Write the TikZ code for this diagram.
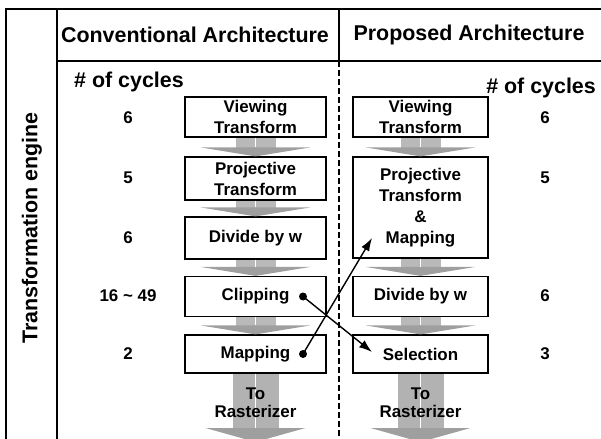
\documentclass[tikz,border=0pt]{standalone}
\usepackage{fontspec}
\setmainfont{Liberation Sans}
\usetikzlibrary{calc,arrows.meta}

\newcommand{\headfont}{\fontsize{21.5}{24}\selectfont\bfseries}
\newcommand{\boxfont}{\fontsize{17}{21}\selectfont\bfseries}

% gray flow arrow between two stacked boxes
\newcommand{\stagearrow}[2]{%
  \fill[gray!55] ($(#1.south)+(-20,0)$) rectangle ($(#2.north)+(20,-8)$);
  \fill[gray!75] ($(#2.north)+(-55,-9)$) -- ($(#2.north)+(55,-9)$) -- (#2.north) -- cycle;
  \draw[white, line width=0.8bp] (#1.south) -- ($(#2.north)+(0,-9)$);
}

\tikzset{
  frame/.style={line width=1.2bp},
  headtext/.style={font=\headfont, inner sep=0pt},
  cycles/.style={font=\boxfont, inner sep=0pt},
  stagebox/.style={draw, line width=1.2bp, fill=white, align=center, font=\boxfont,
    inner sep=0pt, minimum height=40bp},
  convbox/.style={stagebox, minimum width=141bp},
  propbox/.style={stagebox, minimum width=135bp},
  dot/.style={circle, fill=black, inner sep=0pt, minimum size=8bp},
  link/.style={line width=1.4bp, -{Latex[length=13bp,width=9bp]}}
}

\begin{document}
\begin{tikzpicture}[x=1bp, y=-1bp]
    \useasboundingbox (0,0) rectangle (601,439);

    % table lines
    \draw[frame] (6,439) -- (6,9) -- (601,9);
    \draw[frame] (57,9) -- (57,439);
    \draw[frame] (57,61) -- (601,61);
    \draw[frame] (339,9) -- (339,61);
    \draw[frame, dash pattern=on 6bp off 3bp] (339,61) -- (339,439);

    \node[headtext, rotate=90] (engine) at (32,228) {Transformation engine};
    \node[headtext] (conv-head) at (195,35) {Conventional Architecture};
    \node[headtext] (prop-head) at (469,35) {Proposed Architecture};
    \node[headtext, anchor=west] (conv-cycles) at (74,82) {\# of cycles};
    \node[headtext, anchor=east] (prop-cycles) at (596,88) {\# of cycles};

    % conventional pipeline
    \node[convbox] (conv-view) at (255.5,117) {Viewing\\Transform};
    \node[convbox, minimum height=43bp] (conv-proj) at (255.5,178.5) {Projective\\Transform};
    \node[convbox, minimum height=42bp] (conv-div) at (255.5,238) {Divide by w};
    \node[convbox] (conv-clip) at (255.5,296.5) {Clipping};
    \node[convbox, minimum height=38bp] (conv-map) at (255.5,354) {Mapping};

    \node[cycles] (conv-n1) at (128,118) {6};
    \node[cycles] (conv-n2) at (128,178) {5};
    \node[cycles] (conv-n3) at (128,238) {6};
    \node[cycles] (conv-n4) at (128,296) {16 \textasciitilde{} 49};
    \node[cycles] (conv-n5) at (128,354) {2};

    % proposed pipeline
    \node[propbox] (prop-view) at (420.5,117) {Viewing\\Transform};
    \node[propbox, minimum height=101bp] (prop-projmap) at (420.5,207.5) {Projective\\Transform\\\&\\Mapping};
    \node[propbox] (prop-div) at (420.5,296.5) {Divide by w};
    \node[propbox, minimum height=38bp] (prop-sel) at (420.5,354) {Selection};

    \node[cycles] (prop-n1) at (545,118) {6};
    \node[cycles] (prop-n2) at (545,178) {5};
    \node[cycles] (prop-n3) at (545,296) {6};
    \node[cycles] (prop-n4) at (545,354) {3};

    % flow between stages
    \stagearrow{conv-view}{conv-proj}
    \stagearrow{conv-proj}{conv-div}
    \stagearrow{conv-div}{conv-clip}
    \stagearrow{conv-clip}{conv-map}
    \stagearrow{prop-view}{prop-projmap}
    \stagearrow{prop-projmap}{prop-div}
    \stagearrow{prop-div}{prop-sel}

    % output to the rasterizer
    \coordinate (conv-out) at (255.5,428);
    \coordinate (prop-out) at (420.5,428);
    \fill[gray!60] ($(conv-map.south)+(-23,0)$) rectangle ($(conv-out)+(23,0)$);
    \fill[gray!75] ($(conv-out)+(-50,0)$) -- ($(conv-out)+(50,0)$) -- ($(conv-out)+(0,14)$) -- cycle;
    \draw[white, line width=0.8bp] (conv-map.south) -- (conv-out);
    \fill[gray!60] ($(prop-sel.south)+(-23,0)$) rectangle ($(prop-out)+(23,0)$);
    \fill[gray!75] ($(prop-out)+(-50,0)$) -- ($(prop-out)+(50,0)$) -- ($(prop-out)+(0,14)$) -- cycle;
    \draw[white, line width=0.8bp] (prop-sel.south) -- (prop-out);
    \node[cycles, align=center] (conv-raster) at (255.5,403) {To\\[-3bp]Rasterizer};
    \node[cycles, align=center] (prop-raster) at (420.5,403) {To\\[-3bp]Rasterizer};

    % stage moved across
    \node[dot] (clip-dot) at (303,296.5) {};
    \node[dot] (map-dot) at (303,354) {};
    \coordinate (sel-in) at (372,352);
    \coordinate (projmap-in) at (372,238);
    \draw[link] (clip-dot.center) -- (sel-in);
    \draw[link] (map-dot.center) -- (projmap-in);
\end{tikzpicture}
\end{document}
